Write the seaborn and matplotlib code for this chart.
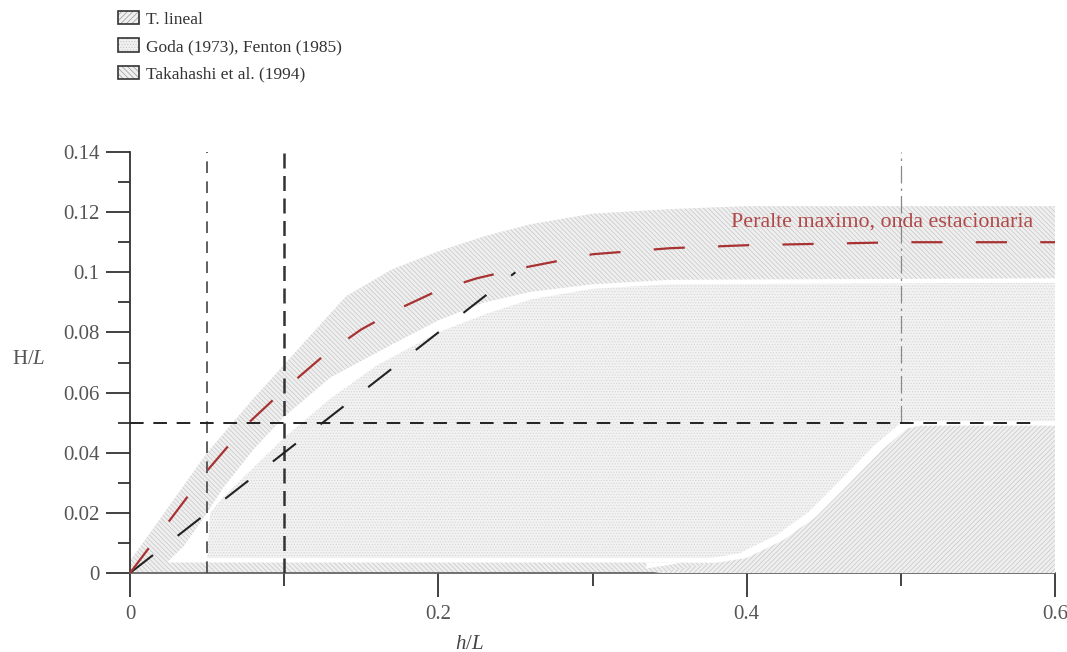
import numpy as np
import matplotlib
matplotlib.use("Agg")
import matplotlib.pyplot as plt
import seaborn as sns
from matplotlib.patches import Patch
from matplotlib.legend_handler import HandlerTuple

# ---------------- data ----------------
# Takahashi et al. (1994) band: upper edge and lower edge
tak_up_x = [0.0, 0.025, 0.05, 0.08, 0.11, 0.14, 0.17, 0.2, 0.23, 0.26, 0.3, 0.35, 0.4, 0.6]
tak_up_y = [0.004, 0.022, 0.040, 0.058, 0.075, 0.092, 0.101, 0.107, 0.112, 0.116, 0.1195, 0.121, 0.122, 0.122]
tak_lo_x = [0.025, 0.035, 0.05, 0.06, 0.08, 0.1, 0.13, 0.17, 0.2, 0.23, 0.26, 0.3, 0.35, 0.6]
tak_lo_y = [0.004, 0.009, 0.020, 0.028, 0.041, 0.052, 0.065, 0.076, 0.084, 0.090, 0.0935, 0.096, 0.0975, 0.098]

# Goda (1973), Fenton (1985) region: upper edge
goda_x = [0.05, 0.052, 0.06, 0.08, 0.1, 0.13, 0.16, 0.2, 0.23, 0.26, 0.3, 0.35, 0.6]
goda_y = [0.005, 0.020, 0.025, 0.035, 0.045, 0.058, 0.069, 0.080, 0.086, 0.091, 0.0945, 0.096, 0.0965]
goda_bottom = 0.005

# Linear theory region: upper edge
lin_x = [0.34, 0.40, 0.424, 0.445, 0.467, 0.488, 0.504, 0.512, 0.6]
lin_y = [0.0, 0.005, 0.011, 0.0187, 0.030, 0.041, 0.048, 0.049, 0.049]

# Maximum steepness, standing wave (red dashed)
red_x = [0.0, 0.025, 0.05, 0.075, 0.1, 0.125, 0.15, 0.175, 0.2, 0.225, 0.25, 0.3, 0.35, 0.4, 0.5, 0.6]
red_y = [0.0, 0.017, 0.034, 0.049, 0.061, 0.072, 0.081, 0.088, 0.094, 0.098, 0.101, 0.106, 0.108, 0.109, 0.110, 0.110]

# Black dashed line
blk_x = [0.0, 0.05, 0.1, 0.15, 0.2, 0.25]
blk_y = [0.0, 0.02, 0.04, 0.06, 0.08, 0.10]

# Reference lines
vref_x = [0.05, 0.1, 0.5]
href_y = 0.05

legend_labels = ["T. lineal", "Goda (1973), Fenton (1985)", "Takahashi et al. (1994)"]
xticks = [0, 0.2, 0.4, 0.6]
xtick_labels = ["0", "0.2", "0.4", "0.6"]
yticks = [0, 0.02, 0.04, 0.06, 0.08, 0.1, 0.12, 0.14]
ytick_labels = ["0", "0.02", "0.04", "0.06", "0.08", "0.1", "0.12", "0.14"]

# ---------------- style ----------------
sns.set_theme(style="ticks")
plt.rcParams["font.family"] = ["Liberation Serif", "DejaVu Serif"]
plt.rcParams["mathtext.fontset"] = "custom"
plt.rcParams["mathtext.rm"] = "Liberation Serif"
plt.rcParams["mathtext.it"] = "Liberation Serif:italic"
plt.rcParams["hatch.linewidth"] = 0.5

fig = plt.figure(figsize=(10.67, 6.52), dpi=100)
ax = fig.add_axes([130 / 1067, 1 - 573 / 652, 925 / 1067, 421 / 652])

HATCH_C = "#c6c6c6"
FACE_C = "#efefef"

# Takahashi band (drawn from axis up to upper edge)
ax.fill_between(tak_up_x, 0, tak_up_y, facecolor=FACE_C, edgecolor=HATCH_C,
                hatch="\\\\\\\\\\\\\\", linewidth=0, zorder=1)
# white interior below the band
ax.fill_between(tak_lo_x, 0.0035, tak_lo_y, facecolor="white", edgecolor="none",
                linewidth=0, zorder=2)
# Goda region
ax.fill_between(goda_x, goda_bottom, goda_y, facecolor="#f2f2f2", edgecolor="#d6d6d6",
                hatch="......", linewidth=0, zorder=3)
# white gap around linear region
lin_white_x = [v - 0.005 for v in lin_x[:-1]] + [lin_x[-1]]
lin_white_y = [v + 0.0015 for v in lin_y]
ax.fill_between(lin_white_x, 0.0035, lin_white_y, facecolor="white", edgecolor="none",
                linewidth=0, zorder=4)
# Linear region
ax.fill_between(lin_x, 0, lin_y, facecolor=FACE_C, edgecolor=HATCH_C,
                hatch="///////", linewidth=0, zorder=5)

# reference lines
ax.vlines(vref_x[0], 0, 0.14, colors="#444444", linewidth=1.2,
          linestyles=(0, (7, 5)), zorder=6)
ax.vlines(vref_x[1], 0, 0.14, colors="#333333", linewidth=1.8,
          linestyles=(0, (6, 3)), zorder=6)
ax.vlines(vref_x[2], href_y, 0.14, colors="#888888", linewidth=0.9,
          linestyles=(0, (14, 4, 2, 4)), zorder=6)
ax.hlines(href_y, 0, 0.59, colors="#222222", linewidth=1.4,
          linestyles=(0, (7, 5)), zorder=6)

# curves
sns.lineplot(x=blk_x, y=blk_y, ax=ax, color="#222222", linewidth=1.5,
             linestyle=(0, (14, 15)), sort=False, zorder=7)
sns.lineplot(x=red_x, y=red_y, ax=ax, color="#a83232", linewidth=1.6,
             linestyle=(0, (14, 15)), sort=False, zorder=7)

ax.text(0.586, 0.1168, "Peralte maximo, onda estacionaria", color="#b04848",
        fontsize=15.8, ha="right", va="center", zorder=8)

# axes
ax.set_xlim(0, 0.6)
ax.set_ylim(0, 0.14)
ax.set_xticks(xticks)
ax.set_xticklabels(xtick_labels)
ax.set_yticks(yticks)
ax.set_yticklabels(ytick_labels)
ax.set_xticks([0.1, 0.3, 0.5], minor=True)
ax.set_yticks([0.01, 0.03, 0.05, 0.07, 0.09, 0.11, 0.13], minor=True)
ax.tick_params(axis="both", which="major", length=17, width=1.3, color="#333333",
               labelsize=15, labelcolor="#555555", direction="out")
ax.tick_params(axis="both", which="minor", length=9, width=1.3, color="#333333",
               direction="out")
ax.tick_params(axis="y", which="major", pad=5)
ax.tick_params(axis="x", which="major", pad=6)
for s in ["top", "right"]:
    ax.spines[s].set_visible(False)
for s in ["left", "bottom"]:
    ax.spines[s].set_color("#333333")
    ax.spines[s].set_linewidth(1.3)
ax.spines["bottom"].set_color("#666666")
ax.set_facecolor("white")

ax.set_xlabel("$h/L$", fontsize=15, color="#444444")
ax.xaxis.set_label_coords(0.367, -0.170)
ax.xaxis.label.set_va("center")
ax.set_ylabel("H/$L$", fontsize=15, color="#555555", rotation=0)
ax.yaxis.set_label_coords(-0.110, 0.506)
ax.yaxis.label.set_va("center")
ax.yaxis.label.set_ha("center")

# legend
fills = [
    Patch(facecolor=FACE_C, edgecolor="#999999", hatch="//////", linewidth=0),
    Patch(facecolor="#f1f1f1", edgecolor="#c8c8c8", hatch="......", linewidth=0),
    Patch(facecolor=FACE_C, edgecolor="#999999", hatch="\\\\\\\\\\\\", linewidth=0),
]
frames = [Patch(facecolor="none", edgecolor="#333333", linewidth=1.2) for _ in range(3)]
handles = [(f, fr) for f, fr in zip(fills, frames)]
leg = fig.legend(handles, legend_labels, loc="upper left",
                 bbox_to_anchor=(118 / 1067, 1 - 11 / 652), frameon=False,
                 fontsize=12.5, handlelength=1.2, handleheight=0.8,
                 handletextpad=0.4, labelspacing=0.62, borderpad=0,
                 borderaxespad=0, handler_map={tuple: HandlerTuple(ndivide=1)})
for t in leg.get_texts():
    t.set_color("#333333")

fig.savefig("out.png", dpi=100)
